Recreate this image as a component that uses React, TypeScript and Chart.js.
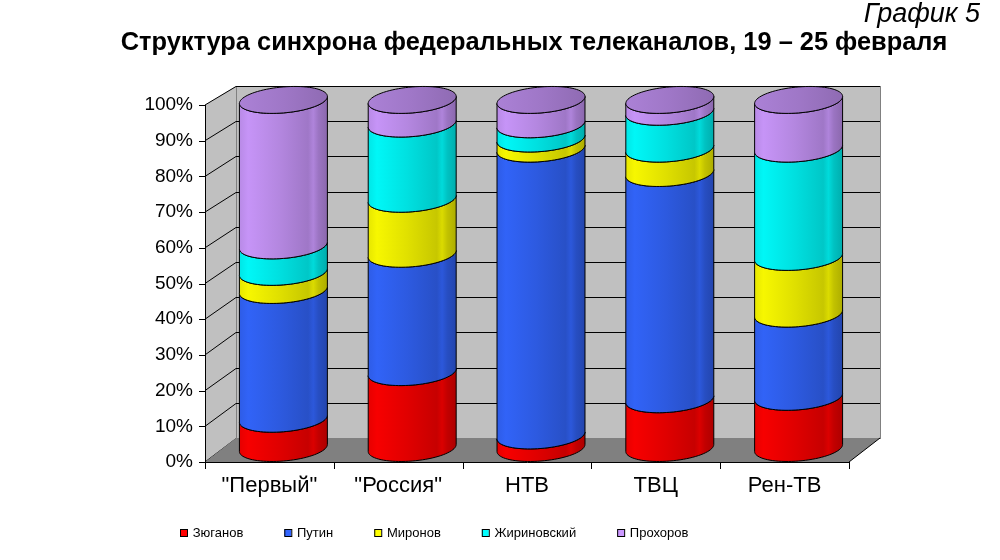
import { useEffect, useRef } from "react";
import { Chart, registerables } from "chart.js";

Chart.register(...registerables);

const categories = ['"Первый"', '"Россия"', "НТВ", "ТВЦ", "Рен-ТВ"];
const seriesNames = ["Зюганов", "Путин", "Миронов", "Жириновский", "Прохоров"];
const zyuganov = [8.4, 21.8, 3.6, 14.0, 14.7];
const putin = [37.0, 34.0, 82.4, 65.0, 23.9];
const mironov = [5.2, 15.8, 2.9, 7.0, 16.3];
const zhirinovsky = [7.6, 21.6, 4.1, 10.6, 31.1];
const prokhorov = [41.8, 6.8, 7.0, 3.4, 14.0];
const seriesValues = [zyuganov, putin, mironov, zhirinovsky, prokhorov];
const seriesColors = ["#FF0000", "#3366FF", "#FFFF00", "#00FFFF", "#CC99FF"];
const titleText = "Структура синхрона федеральных телеканалов, 19 – 25 февраля";
const captionText = "График 5";

const FONT = "'Liberation Sans', Arial, sans-serif";

// 3D geometry (styling constants)
const DX = 31;
const DYB = -24;
const KB = 0.986;
const OX = 14;
const OY = -14;
const KC = 0.975;
const RY = 13;
const SLOPE = 0.08;

function shade(hex: string, f: number): string {
  const n = parseInt(hex.slice(1), 16);
  const r = Math.min(255, Math.round(((n >> 16) & 255) * f));
  const g = Math.min(255, Math.round(((n >> 8) & 255) * f));
  const b = Math.min(255, Math.round((n & 255) * f));
  return `rgb(${r},${g},${b})`;
}

const threeD = {
  id: "threeD",
  beforeDraw(chart: any) {
    const { ctx, chartArea } = chart;
    const L = chartArea.left, R = chartArea.right, T = chartArea.top, B = chartArea.bottom;
    const yScale = chart.scales.y;
    const backY = (y: number) => B + DYB + (y - B) * KB;
    ctx.save();
    // side wall
    ctx.fillStyle = "#C0C0C0";
    ctx.beginPath();
    ctx.moveTo(L, T);
    ctx.lineTo(L + DX, backY(T));
    ctx.lineTo(L + DX, backY(B));
    ctx.lineTo(L, B);
    ctx.closePath();
    ctx.fill();
    // back wall
    ctx.fillRect(L + DX, backY(T), R - L, backY(B) - backY(T));
    ctx.strokeStyle = "#808080";
    ctx.lineWidth = 1;
    ctx.strokeRect(L + DX + 0.5, backY(T) + 0.5, R - L, backY(B) - backY(T));
    // grid lines
    ctx.strokeStyle = "#000000";
    ctx.lineWidth = 1;
    yScale.ticks.forEach((t: any) => {
      const y = yScale.getPixelForValue(t.value);
      const by = Math.round(backY(y)) + 0.5;
      ctx.beginPath();
      ctx.moveTo(L, y);
      ctx.lineTo(L + DX, by);
      ctx.lineTo(R + DX, by);
      ctx.stroke();
    });
    // floor
    ctx.fillStyle = "#808080";
    ctx.beginPath();
    ctx.moveTo(L, B);
    ctx.lineTo(R, B);
    ctx.lineTo(R + DX, backY(B));
    ctx.lineTo(L + DX, backY(B));
    ctx.closePath();
    ctx.fill();
    ctx.strokeStyle = "#000000";
    ctx.beginPath();
    ctx.moveTo(R, B);
    ctx.lineTo(R + DX, backY(B));
    ctx.stroke();
    ctx.restore();
  },
  beforeDatasetsDraw(chart: any) {
    const { ctx, chartArea } = chart;
    const B = chartArea.bottom;
    const cyl = (y: number) => B + OY + (y - B) * KC;
    const n = chart.data.labels.length;
    const nds = chart.data.datasets.length;
    ctx.save();
    ctx.lineWidth = 1;
    ctx.strokeStyle = "#000000";
    for (let i = 0; i < n; i++) {
      let topCy = 0, cx = 0, rx = 0;
      for (let d = 0; d < nds; d++) {
        const bar: any = chart.getDatasetMeta(d).data[i];
        const color = seriesColors[d];
        cx = bar.x + OX;
        rx = bar.width / 2;
        const c0 = cyl(bar.base);
        const c1 = cyl(bar.y);
        topCy = c1;
        const P = (t: number, cy: number) => [cx + rx * Math.cos(t), cy + RY * Math.sin(t) - rx * Math.cos(t) * SLOPE];
        const g = ctx.createLinearGradient(cx - rx, 0, cx + rx, 0);
        g.addColorStop(0, shade(color, 0.9));
        g.addColorStop(0.1, shade(color, 0.97));
        g.addColorStop(0.45, shade(color, 0.88));
        g.addColorStop(0.78, shade(color, 0.78));
        g.addColorStop(0.84, shade(color, 0.86));
        g.addColorStop(0.9, shade(color, 0.76));
        g.addColorStop(1, shade(color, 0.68));
        ctx.beginPath();
        const steps = 40;
        for (let k = 0; k <= steps; k++) {
          const t = Math.PI - (Math.PI * k) / steps;
          const [x, y] = P(t, c0);
          if (k === 0) ctx.moveTo(x, y);
          else ctx.lineTo(x, y);
        }
        for (let k = 0; k <= steps; k++) {
          const t = (Math.PI * k) / steps;
          const [x, y] = P(t, c1);
          ctx.lineTo(x, y);
        }
        ctx.closePath();
        ctx.fillStyle = g;
        ctx.fill();
        ctx.stroke();
      }
      // top cap
      const color = seriesColors[nds - 1];
      const g2 = ctx.createLinearGradient(cx - rx, 0, cx + rx, 0);
      g2.addColorStop(0, shade(color, 0.84));
      g2.addColorStop(0.5, shade(color, 0.78));
      g2.addColorStop(1, shade(color, 0.7));
      ctx.beginPath();
      const steps = 80;
      for (let k = 0; k <= steps; k++) {
        const t = (2 * Math.PI * k) / steps;
        const x = cx + rx * Math.cos(t);
        const y = topCy + RY * Math.sin(t) - rx * Math.cos(t) * SLOPE;
        if (k === 0) ctx.moveTo(x, y);
        else ctx.lineTo(x, y);
      }
      ctx.closePath();
      ctx.fillStyle = g2;
      ctx.fill();
      ctx.stroke();
    }
    ctx.restore();
    return false;
  },
  afterDraw(chart: any) {
    const { ctx, chartArea } = chart;
    const L = chartArea.left, R = chartArea.right, T = chartArea.top, B = chartArea.bottom;
    const yScale = chart.scales.y;
    ctx.save();
    ctx.strokeStyle = "#000000";
    ctx.lineWidth = 1;
    ctx.beginPath();
    ctx.moveTo(L + 0.5, T);
    ctx.lineTo(L + 0.5, B + 0.5);
    ctx.lineTo(R, B + 0.5);
    ctx.stroke();
    yScale.ticks.forEach((t: any) => {
      const y = Math.round(yScale.getPixelForValue(t.value)) + 0.5;
      ctx.beginPath();
      ctx.moveTo(L - 6, y);
      ctx.lineTo(L, y);
      ctx.stroke();
    });
    const n = chart.data.labels.length;
    for (let i = 0; i <= n; i++) {
      const x = Math.round(L + ((R - L) * i) / n) + 0.5;
      ctx.beginPath();
      ctx.moveTo(x, B);
      ctx.lineTo(x, B + 7);
      ctx.stroke();
    }
    // title & caption
    ctx.fillStyle = "#000000";
    ctx.textBaseline = "alphabetic";
    ctx.font = `bold 25.4px ${FONT}`;
    ctx.textAlign = "center";
    ctx.fillText(titleText, 534, 50);
    ctx.font = `italic 27px ${FONT}`;
    ctx.textAlign = "right";
    ctx.fillText(captionText, 980, 22);
    // legend
    ctx.font = `13px ${FONT}`;
    ctx.textAlign = "left";
    ctx.textBaseline = "middle";
    let x = 180;
    const ly = 533;
    chart.data.datasets.forEach((ds: any, d: number) => {
      ctx.fillStyle = seriesColors[d];
      ctx.fillRect(x, ly - 4, 7, 7);
      ctx.strokeStyle = "#000000";
      ctx.strokeRect(x + 0.5, ly - 3.5, 7, 7);
      ctx.fillStyle = "#000000";
      ctx.fillText(ds.label, x + 12.7, ly);
      x += 12.7 + ctx.measureText(ds.label).width + 41;
    });
    ctx.restore();
  },
};

export default function App() {
  const ref = useRef<HTMLCanvasElement | null>(null);
  useEffect(() => {
    if (!ref.current) return;
    const chart = new Chart(ref.current, {
      type: "bar",
      data: {
        labels: categories,
        datasets: seriesNames.map((name, d) => ({
          label: name,
          data: seriesValues[d],
          backgroundColor: seriesColors[d],
          borderColor: "#000000",
          borderWidth: 1,
          barPercentage: 0.683,
          categoryPercentage: 1,
        })),
      },
      options: {
        responsive: false,
        animation: false,
        devicePixelRatio: 1,
        layout: { padding: { top: 105, right: 151, left: 0, bottom: 0 } },
        plugins: {
          legend: { display: false },
          title: { display: false },
          tooltip: { enabled: false },
        },
        scales: {
          x: {
            stacked: true,
            grid: { display: false, drawTicks: false },
            border: { display: false },
            ticks: { font: { size: 22, family: FONT }, color: "#000000", padding: 11 },
            afterFit: (s: any) => {
              s.height = 98;
            },
          },
          y: {
            stacked: true,
            min: 0,
            max: 100,
            grid: { display: false, drawTicks: false },
            border: { display: false },
            ticks: {
              stepSize: 10,
              callback: (v: any) => `${v}%`,
              font: { size: 19, family: FONT },
              color: "#000000",
              padding: 12,
            },
            afterFit: (s: any) => {
              s.width = 205;
            },
          },
        },
      },
      plugins: [threeD],
    });
    return () => chart.destroy();
  }, []);
  return (
    <div style={{ position: "absolute", left: 0, top: 0, width: 1000, height: 560 }}>
      <canvas ref={ref} width={1000} height={560} style={{ display: "block" }} />
    </div>
  );
}
